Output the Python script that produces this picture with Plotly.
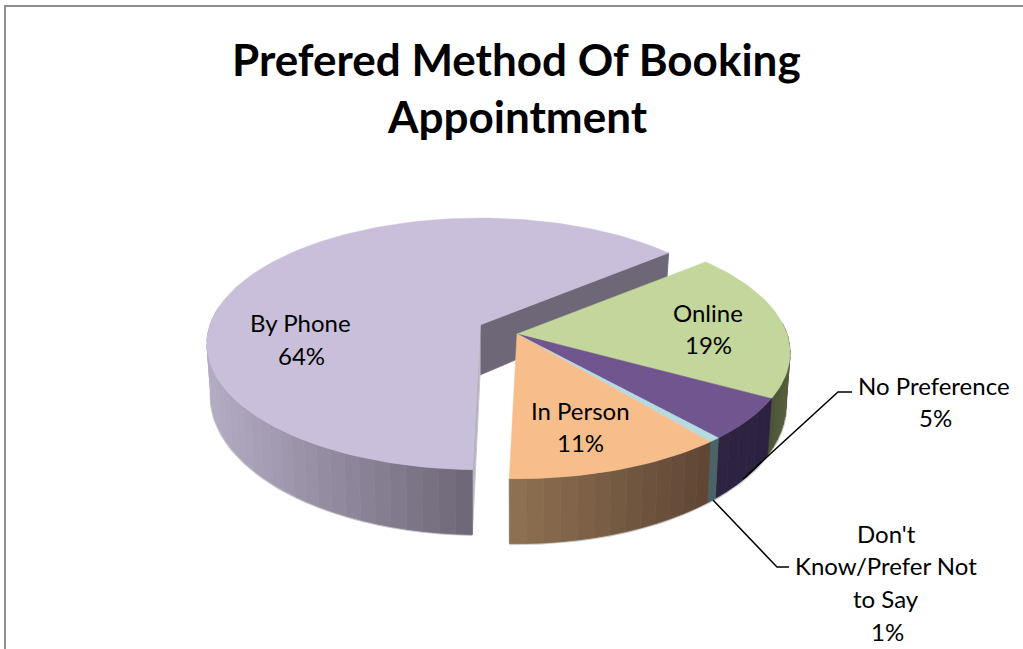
import math
import plotly.graph_objects as go

# ---- data ----
TITLE_LINES = ["Prefered Method Of Booking", "Appointment"]
CATEGORIES = ["Online", "No Preference", "Don't Know/Prefer Not to Say", "In Person", "By Phone"]
VALUES = [19.2, 5.4, 0.6, 11.3, 63.5]

# ---- styles ----
TOP_COLORS = ["#C3D69B", "#71558F", "#B4DAE2", "#F7BE8C", "#C9BFDB"]
WALL_LEFT = ["#4B5236", "#2E2340", "#4A6268", "#8F7152", "#B4ACC4"]
WALL_RIGHT = ["#56603C", "#2C2140", "#4A6268", "#5F4634", "#6C6676"]
START_ANGLE = 50
CENTER = (517, 334)
EXPLODE = {"By Phone": (-37, -9)}
RX, RY, K = 270, 123, 0.15
DEPTH, DEPTH_POW, BOTTOM_X = 50, 1.6, 0.985
CUT_WALL = "#6E6777"
CUT_FACE = "#B9B0C9"
RIM = "#C6C6C6"


def project(theta, c, r=1.0, bottom=False):
    x = r * math.sin(math.radians(theta))
    y = r * math.cos(math.radians(theta))
    w = 1 + K * y
    sx, sy = RX * x / w, -RY * y / w
    if bottom:
        sx *= BOTTOM_X
        sy += DEPTH / w ** DEPTH_POW
    return c[0] + sx, c[1] + sy


def mix(a, b, t):
    pa = [int(a[i:i + 2], 16) for i in (1, 3, 5)]
    pb = [int(b[i:i + 2], 16) for i in (1, 3, 5)]
    return "#%02X%02X%02X" % tuple(round(p + (q - p) * t) for p, q in zip(pa, pb))


fig = go.Figure()


def poly(points, color, line_color=None, width=0.8):
    xs = [p[0] for p in points] + [points[0][0]]
    ys = [p[1] for p in points] + [points[0][1]]
    fig.add_trace(go.Scatter(x=xs, y=ys, mode="lines", fill="toself", fillcolor=color,
                             line=dict(color=line_color or color, width=width),
                             hoverinfo="skip", showlegend=False))


def arc(a, b, c, bottom=False, step=1.5):
    n = max(2, int(abs(b - a) / step) + 1)
    return [project(a + (b - a) * i / n, c, bottom=bottom) for i in range(n + 1)]


# angular spans from values
spans = []
a = START_ANGLE
for v in VALUES:
    spans.append((a, a + v * 3.6))
    a += v * 3.6


def draw_slice(i):
    name = CATEGORIES[i]
    a0, a1 = spans[i]
    off = EXPLODE.get(name, (0, 0))
    c = (CENTER[0] + off[0], CENTER[1] + off[1])
    if name == "By Phone":
        # the cut wall facing the green slice and the cut face facing In Person
        poly([c, project(a1, c), project(a1, c, bottom=True), project(a1, c, r=0, bottom=True)], CUT_WALL)
        poly([c, project(a0, c), project(a0, c, bottom=True), project(a0, c, r=0, bottom=True)], CUT_FACE, RIM, 1)
    # outer wall: only the part facing the viewer
    vis0, vis1 = max(a0, 85), min(a1, 279)
    if vis1 > vis0:
        bottom_rim = arc(vis0, vis1, c, bottom=True)
        xs = [p[0] for p in bottom_rim]
        ys = [p[1] for p in bottom_rim]
        fig.add_trace(go.Scatter(x=xs, y=ys, mode="lines", line=dict(color=RIM, width=3),
                                 hoverinfo="skip", showlegend=False))
        n = max(1, int((vis1 - vis0) / 3))
        lo, hi = min(p[0] for p in arc(vis0, vis1, c)), max(p[0] for p in arc(vis0, vis1, c))
        for j in range(n):
            t0 = vis0 + (vis1 - vis0) * j / n
            t1 = vis0 + (vis1 - vis0) * (j + 1) / n
            px = project((t0 + t1) / 2, c)[0]
            colour = mix(WALL_LEFT[i], WALL_RIGHT[i], (px - lo) / max(hi - lo, 1))
            poly(arc(t0, t1, c) + arc(t0, t1, c, bottom=True)[::-1], colour)
    # top face
    poly([c] + arc(a0, a1, c), TOP_COLORS[i], width=0.5)


for i in [4, 0, 1, 2, 3]:
    draw_slice(i)

# ---- leader lines ----
LEADERS = [
    ([852, 838, 743], [392, 392, 479]),
    ([789, 777, 713], [567, 567, 500]),
]
for lx, ly in LEADERS:
    fig.add_trace(go.Scatter(x=lx, y=ly, mode="lines", line=dict(color="black", width=1.5),
                             hoverinfo="skip", showlegend=False))

FONT = "Lato, Carlito, Calibri, sans-serif"


def text(s, x, y, size, bold=False):
    fig.add_annotation(x=x, y=y, xref="x", yref="y", text=f"<b>{s}</b>" if bold else s,
                       showarrow=False, xanchor="center", yanchor="middle",
                       font=dict(family=FONT, size=size, color="black"))


text(TITLE_LINES[0], 516, 59, 44, True)
text(TITLE_LINES[1], 517, 116, 44, True)


def pct(i):
    return f"{round(VALUES[i])}%"


LABEL_SIZE = 24
text("By Phone", 300, 322, LABEL_SIZE)
text(pct(4), 301, 355, LABEL_SIZE)
text("Online", 708, 312, LABEL_SIZE)
text(pct(0), 708, 344, LABEL_SIZE)
text("In Person", 580, 410, LABEL_SIZE)
text(pct(3), 580, 442, LABEL_SIZE)
text("No Preference", 934, 385, LABEL_SIZE)
text(pct(1), 935, 417, LABEL_SIZE)
text("Don't", 886, 533, LABEL_SIZE)
text("Know/Prefer Not", 886, 565, LABEL_SIZE)
text("to Say", 886, 598, LABEL_SIZE)
text(pct(2), 887, 631, LABEL_SIZE)

fig.update_layout(
    width=1023, height=649, margin=dict(l=0, r=0, t=0, b=0),
    paper_bgcolor="white", plot_bgcolor="white", showlegend=False,
    xaxis=dict(range=[0, 1023], visible=False, fixedrange=True),
    yaxis=dict(range=[649, 0], visible=False, fixedrange=True),
    shapes=[
        dict(type="line", xref="x", yref="y", x0=5, x1=5, y0=5, y1=649, line=dict(color="#8E8E8E", width=2)),
        dict(type="line", xref="x", yref="y", x0=4, x1=1023, y0=6, y1=6, line=dict(color="#8E8E8E", width=2)),
    ],
)

fig.write_html("out.html", config={"displayModeBar": False},
               post_script="document.body.style.margin='0';document.body.style.overflow='hidden';")
